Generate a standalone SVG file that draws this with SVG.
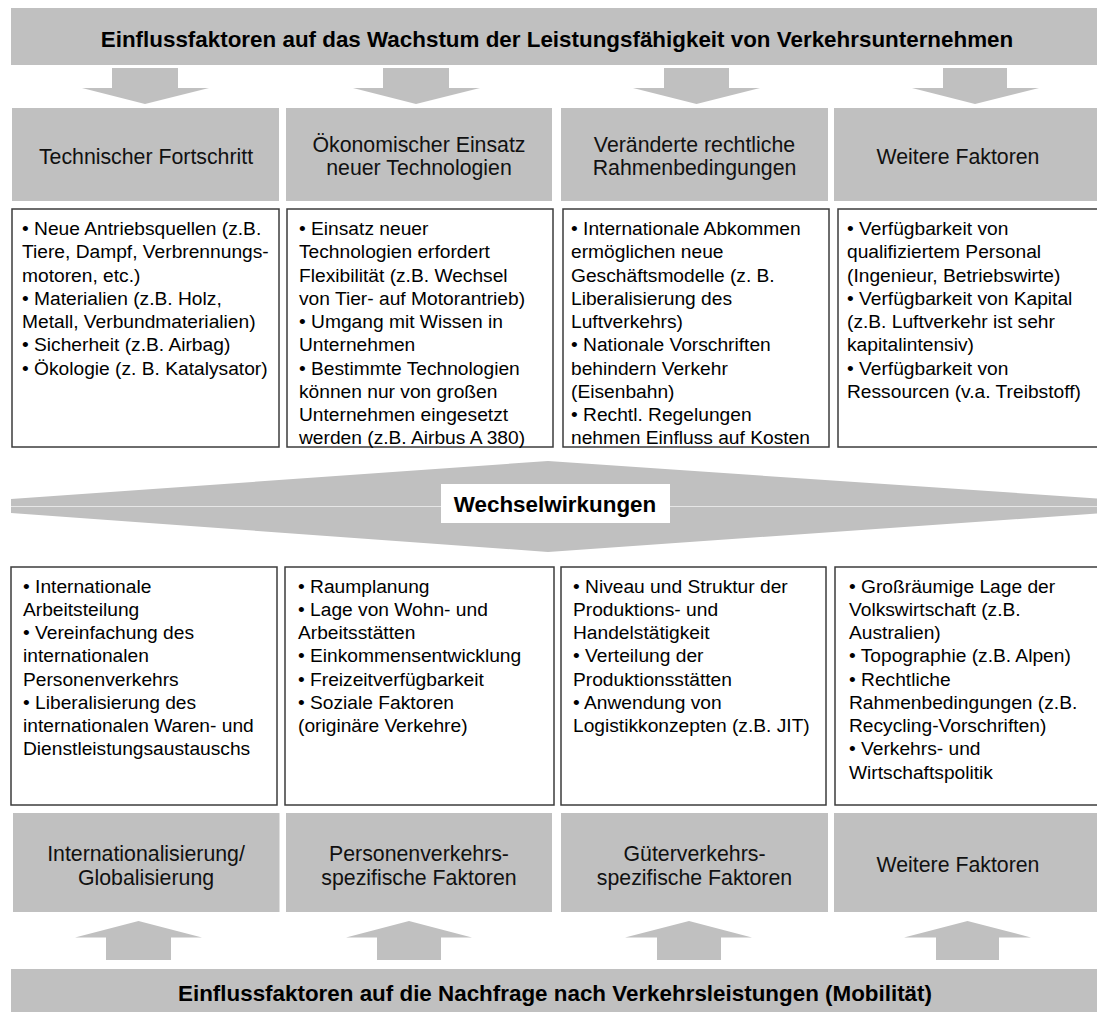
<svg xmlns="http://www.w3.org/2000/svg" width="1097" height="1012" viewBox="0 0 1097 1012">
<defs>
<style>
.band{fill:#c0c0c0}
.hdr{fill:#c0c0c0}
.arr{fill:#c0c0c0}
.box{fill:#fff;stroke:#3c3c3c;stroke-width:1.5}
.title{font-family:"Liberation Sans",Arial,sans-serif;font-weight:bold;font-size:22.4px;fill:#000;text-anchor:middle}
.htxt{font-family:"Liberation Sans",Arial,sans-serif;font-size:21.3px;fill:#111;text-anchor:middle}
.btxt{font-family:"Liberation Sans",Arial,sans-serif;font-size:19.2px;fill:#000}
</style>
</defs>
<rect width="1097" height="1012" fill="#fff"/>

<g id="top-banner">
<rect class="band" x="11" y="8" width="1095" height="57"/>
<text class="title" x="557" y="47">Einflussfaktoren  auf das Wachstum der Leistungsfähigkeit von Verkehrsunternehmen</text>
</g>

<g id="connectors">
<polygon class="arr" points="112,68 178,68 178,88 209,88 145,104 82,88 112,88"/>
<polygon class="arr" points="383,68 449,68 449,88 480,88 416,104 353,88 383,88"/>
<polygon class="arr" points="664,68 729,68 729,88 760,88 696.5,104 633,88 664,88"/>
<polygon class="arr" points="943,68 1007,68 1007,88 1039,88 975,104 912,88 943,88"/>
<polygon class="arr" points="106,960 171,960 171,937.5 202,937.5 138.5,921 75,937.5 106,937.5"/>
<polygon class="arr" points="377,960 441,960 441,937.5 472,937.5 409,921 346,937.5 377,937.5"/>
<polygon class="arr" points="657,960 721,960 721,937.5 752,937.5 689,921 625,937.5 657,937.5"/>
<polygon class="arr" points="936,960 999,960 999,937.5 1031,937.5 967.5,921 904,937.5 936,937.5"/>
</g>

<g id="h-tech">
<rect class="hdr" x="12" y="108" width="267" height="93"/>
<text class="htxt" x="146" y="164">Technischer Fortschritt</text>
</g>
<g id="h-oeko">
<rect class="hdr" x="286" y="108" width="266" height="93"/>
<text class="htxt" x="419" y="152">Ökonomischer Einsatz</text>
<text class="htxt" x="419" y="175">neuer Technologien</text>
</g>
<g id="h-recht">
<rect class="hdr" x="561" y="108" width="267" height="93"/>
<text class="htxt" x="694.5" y="152">Veränderte rechtliche</text>
<text class="htxt" x="694.5" y="175">Rahmenbedingungen</text>
</g>
<g id="h-weitere-top">
<rect class="hdr" x="834" y="108" width="270" height="93"/>
<text class="htxt" x="958" y="164">Weitere Faktoren</text>
</g>

<g id="t-tech">
<rect class="box" x="12" y="209" width="267" height="238"/>
<text class="btxt" y="235">
<tspan x="22">• Neue Antriebsquellen (z.B.</tspan>
<tspan x="22" dy="23.25">Tiere, Dampf, Verbrennungs-</tspan>
<tspan x="22" dy="23.25">motoren, etc.)</tspan>
<tspan x="22" dy="23.25">• Materialien (z.B. Holz,</tspan>
<tspan x="22" dy="23.25">Metall, Verbundmaterialien)</tspan>
<tspan x="22" dy="23.25">• Sicherheit (z.B. Airbag)</tspan>
<tspan x="22" dy="23.25">• Ökologie (z. B. Katalysator)</tspan>
</text>
</g>
<g id="t-oeko">
<rect class="box" x="287" y="209" width="266" height="238"/>
<text class="btxt" y="235">
<tspan x="299">• Einsatz neuer</tspan>
<tspan x="299" dy="23.25">Technologien erfordert</tspan>
<tspan x="299" dy="23.25">Flexibilität (z.B. Wechsel</tspan>
<tspan x="299" dy="23.25">von Tier- auf Motorantrieb)</tspan>
<tspan x="299" dy="23.25">• Umgang mit Wissen in</tspan>
<tspan x="299" dy="23.25">Unternehmen</tspan>
<tspan x="299" dy="23.25">• Bestimmte Technologien</tspan>
<tspan x="299" dy="23.25">können nur von großen</tspan>
<tspan x="299" dy="23.25">Unternehmen eingesetzt</tspan>
<tspan x="299" dy="23.25">werden (z.B. Airbus A 380)</tspan>
</text>
</g>
<g id="t-recht">
<rect class="box" x="563" y="209" width="266" height="238"/>
<text class="btxt" y="235">
<tspan x="571">• Internationale Abkommen</tspan>
<tspan x="571" dy="23.25">ermöglichen neue</tspan>
<tspan x="571" dy="23.25">Geschäftsmodelle (z. B.</tspan>
<tspan x="571" dy="23.25">Liberalisierung des</tspan>
<tspan x="571" dy="23.25">Luftverkehrs)</tspan>
<tspan x="571" dy="23.25">• Nationale Vorschriften</tspan>
<tspan x="571" dy="23.25">behindern Verkehr</tspan>
<tspan x="571" dy="23.25">(Eisenbahn)</tspan>
<tspan x="571" dy="23.25">• Rechtl. Regelungen</tspan>
<tspan x="571" dy="23.25">nehmen Einfluss auf Kosten</tspan>
</text>
</g>
<g id="t-weitere-top">
<rect class="box" x="838" y="209" width="270" height="238"/>
<text class="btxt" y="235">
<tspan x="847">• Verfügbarkeit von</tspan>
<tspan x="847" dy="23.25">qualifiziertem Personal</tspan>
<tspan x="847" dy="23.25">(Ingenieur, Betriebswirte)</tspan>
<tspan x="847" dy="23.25">• Verfügbarkeit von Kapital</tspan>
<tspan x="847" dy="23.25">(z.B. Luftverkehr ist sehr</tspan>
<tspan x="847" dy="23.25">kapitalintensiv)</tspan>
<tspan x="847" dy="23.25">• Verfügbarkeit von</tspan>
<tspan x="847" dy="23.25">Ressourcen (v.a. Treibstoff)</tspan>
</text>
</g>

<g id="wechselwirkungen">
<polygon class="band" points="11,499 548,461 1104,499 1104,513 548,552 11,513"/>
<line x1="11" y1="506.5" x2="1104" y2="506.5" stroke="#e6e6e6" stroke-width="1"/>
<rect x="441" y="484" width="229" height="39" fill="#fff"/>
<text class="title" x="555" y="511.5">Wechselwirkungen</text>
</g>

<g id="t-intl">
<rect class="box" x="11" y="567" width="266" height="238"/>
<text class="btxt" y="592.5">
<tspan x="23">• Internationale</tspan>
<tspan x="23" dy="23.25">Arbeitsteilung</tspan>
<tspan x="23" dy="23.25">• Vereinfachung des</tspan>
<tspan x="23" dy="23.25">internationalen</tspan>
<tspan x="23" dy="23.25">Personenverkehrs</tspan>
<tspan x="23" dy="23.25">• Liberalisierung des</tspan>
<tspan x="23" dy="23.25">internationalen Waren- und</tspan>
<tspan x="23" dy="23.25">Dienstleistungsaustauschs</tspan>
</text>
</g>
<g id="t-person">
<rect class="box" x="285" y="567" width="269" height="238"/>
<text class="btxt" y="592.5">
<tspan x="298">• Raumplanung</tspan>
<tspan x="298" dy="23.25">• Lage von Wohn- und</tspan>
<tspan x="298" dy="23.25">Arbeitsstätten</tspan>
<tspan x="298" dy="23.25">• Einkommensentwicklung</tspan>
<tspan x="298" dy="23.25">• Freizeitverfügbarkeit</tspan>
<tspan x="298" dy="23.25">• Soziale Faktoren</tspan>
<tspan x="298" dy="23.25">(originäre Verkehre)</tspan>
</text>
</g>
<g id="t-gueter">
<rect class="box" x="561" y="567" width="265" height="238"/>
<text class="btxt" y="592.5">
<tspan x="573">• Niveau und Struktur der</tspan>
<tspan x="573" dy="23.25">Produktions- und</tspan>
<tspan x="573" dy="23.25">Handelstätigkeit</tspan>
<tspan x="573" dy="23.25">• Verteilung der</tspan>
<tspan x="573" dy="23.25">Produktionsstätten</tspan>
<tspan x="573" dy="23.25">• Anwendung von</tspan>
<tspan x="573" dy="23.25">Logistikkonzepten (z.B. JIT)</tspan>
</text>
</g>
<g id="t-weitere-bottom">
<rect class="box" x="835" y="567" width="273" height="238"/>
<text class="btxt" y="592.5">
<tspan x="849">• Großräumige Lage der</tspan>
<tspan x="849" dy="23.25">Volkswirtschaft (z.B.</tspan>
<tspan x="849" dy="23.25">Australien)</tspan>
<tspan x="849" dy="23.25">• Topographie (z.B. Alpen)</tspan>
<tspan x="849" dy="23.25">• Rechtliche</tspan>
<tspan x="849" dy="23.25">Rahmenbedingungen (z.B.</tspan>
<tspan x="849" dy="23.25">Recycling-Vorschriften)</tspan>
<tspan x="849" dy="23.25">• Verkehrs- und</tspan>
<tspan x="849" dy="23.25">Wirtschaftspolitik</tspan>
</text>
</g>

<g id="h-intl">
<rect class="hdr" x="13" y="813" width="266.5" height="99"/>
<text class="htxt" x="146" y="861">Internationalisierung/</text>
<text class="htxt" x="146" y="885">Globalisierung</text>
</g>
<g id="h-person">
<rect class="hdr" x="286" y="813" width="266" height="99"/>
<text class="htxt" x="419" y="861">Personenverkehrs-</text>
<text class="htxt" x="419" y="885">spezifische Faktoren</text>
</g>
<g id="h-gueter">
<rect class="hdr" x="561" y="813" width="267" height="99"/>
<text class="htxt" x="694.5" y="861">Güterverkehrs-</text>
<text class="htxt" x="694.5" y="885">spezifische Faktoren</text>
</g>
<g id="h-weitere-bottom">
<rect class="hdr" x="834" y="813" width="270" height="99"/>
<text class="htxt" x="958" y="872">Weitere Faktoren</text>
</g>

<g id="bottom-banner">
<rect class="band" x="11" y="969" width="1095" height="50"/>
<text class="title" x="555" y="1001">Einflussfaktoren  auf die Nachfrage nach Verkehrsleistungen (Mobilität)</text>
</g>
</svg>
